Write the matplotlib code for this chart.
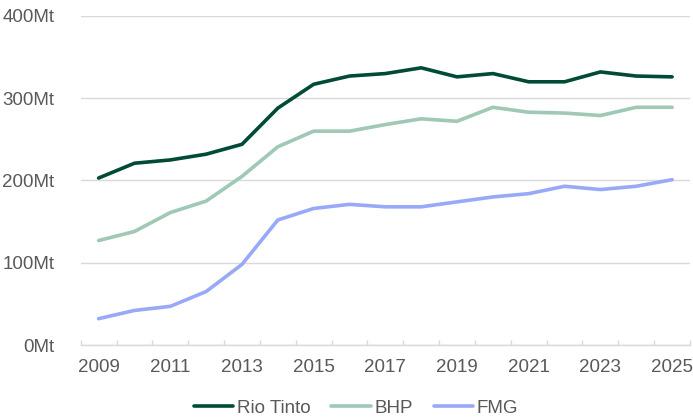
import matplotlib
matplotlib.use("Agg")
import matplotlib.pyplot as plt
import numpy as np

# iron ore shipments, Mt
years = list(range(2009, 2026))
rio_tinto = [203, 221, 225, 232, 244, 288, 317, 327, 330, 337, 326, 330, 320, 320, 332, 327, 326]
bhp = [127, 138, 161, 175, 205, 241, 260, 260, 268, 275, 272, 289, 283, 282, 279, 289, 289]
fmg = [32, 42, 47, 65, 98, 152, 166, 171, 168, 168, 174, 180, 184, 193, 189, 193, 201]

y_ticks = [0, 100, 200, 300, 400]
x_labels = [2009, 2011, 2013, 2015, 2017, 2019, 2021, 2023, 2025]

COLORS = {"Rio Tinto": "#004B38", "BHP": "#9FC8B5", "FMG": "#98A9F7"}
TEXT = "#595959"
GRID = "#D9D9D9"

plt.rcParams["font.family"] = ["Liberation Sans", "DejaVu Sans"]

fig = plt.figure(figsize=(6.93, 4.19), dpi=100)
ax = fig.add_axes([80.7 / 693, 1 - 345 / 419, (690 - 80.7) / 693, (345 - 16) / 419])

for name, vals in [("Rio Tinto", rio_tinto), ("BHP", bhp), ("FMG", fmg)]:
    ax.plot(years, vals, color=COLORS[name], linewidth=2.6, label=name,
            solid_capstyle="round", solid_joinstyle="round")

ax.set_xlim(years[0] - 0.5, years[-1] + 0.5)
ax.set_ylim(0, 400)
ax.set_yticks(y_ticks)
ax.set_yticklabels([f"{v}Mt" for v in y_ticks])
ax.set_xticks(x_labels)
ax.set_xticks(np.arange(years[0] - 0.5, years[-1] + 1, 1), minor=True)

ax.tick_params(axis="y", length=0, pad=19, labelsize=13.5, labelcolor=TEXT)
ax.tick_params(axis="x", which="major", length=0, pad=10, labelsize=13.5, labelcolor=TEXT)
ax.tick_params(axis="x", which="minor", direction="in", length=3.6, width=1, color=GRID)

ax.grid(axis="y", color=GRID, linewidth=1)
ax.set_axisbelow(True)
for s in ["top", "right", "left"]:
    ax.spines[s].set_visible(False)
ax.spines["bottom"].set_color(GRID)
ax.spines["bottom"].set_linewidth(1)

fig.legend(loc="center", bbox_to_anchor=(356 / 693, 1 - 408 / 419), ncol=3,
           frameon=False, fontsize=13.5, labelcolor=TEXT, handlelength=2.1,
           handletextpad=0.2, columnspacing=1.1, borderaxespad=0)

fig.savefig("out.png", dpi=100)
